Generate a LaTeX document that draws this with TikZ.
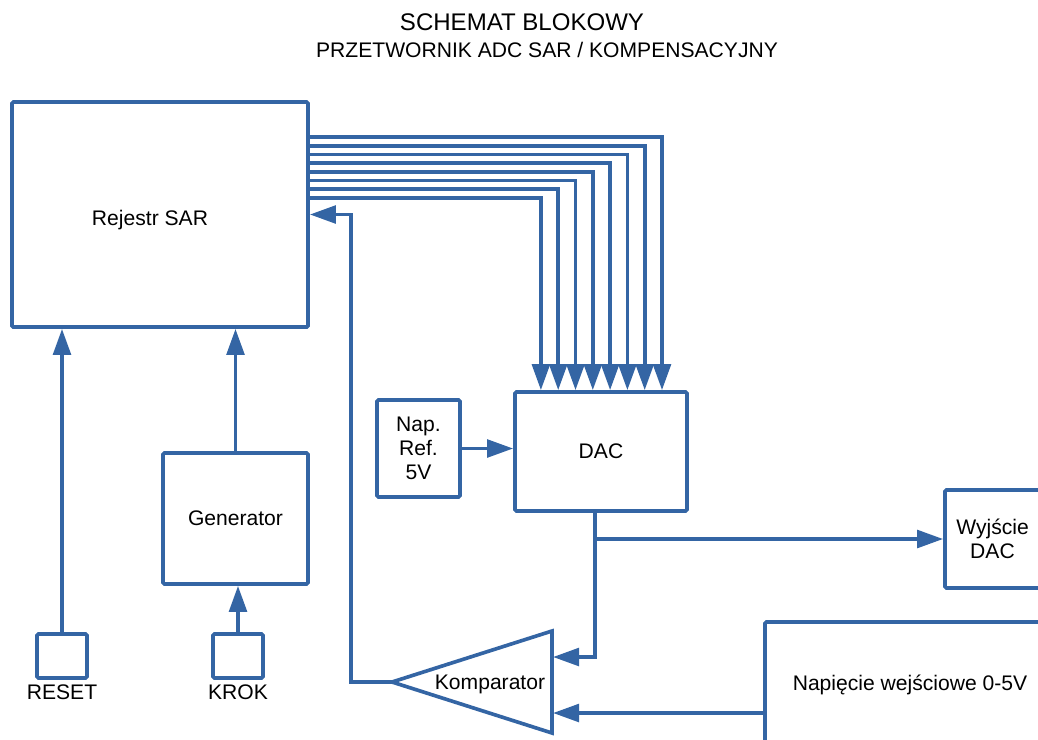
\documentclass[tikz,border=0pt]{standalone}
\usepackage{fontspec}
\setmainfont{Liberation Sans}
\usetikzlibrary{arrows.meta}
\definecolor{niebieski}{RGB}{52,101,164}

\tikzset{
  blok/.style={draw=niebieski, line width=2.6pt, rounded corners=1pt, align=center, inner sep=0pt, font=\fontsize{15}{17}\selectfont},
  linia/.style={draw=niebieski, line width=2.6pt},
  napis/.style={align=center, font=\fontsize{15}{17}\selectfont}
}

\begin{document}
\begin{tikzpicture}[x=0.025cm, y=-0.025cm, >={Triangle[length=0.65cm, width=0.44cm]}]

\useasboundingbox (0,0) rectangle (1038,739);
\clip (0,0) rectangle (1038,739);

%tytul
				\node [font=\fontsize{17.1}{20}\selectfont] (tytul) at (522,22) {SCHEMAT BLOKOWY};
				\node [napis] (podtytul) at (547,50) {PRZETWORNIK ADC SAR / KOMPENSACYJNY};

%bloki
				\node [blok, minimum width=7.4cm, minimum height=5.625cm,
				  label={[napis, xshift=-0.25cm, yshift=-0.15cm]center:Rejestr SAR}] (sar) at (160,214.5) {};
				\node [blok, minimum width=3.625cm, minimum height=3.275cm] (gen) at (235.5,518.5) {Generator};
				\node [blok, minimum width=1.25cm, minimum height=1.1cm] (reset) at (62,656) {};
				\node [blok, minimum width=1.25cm, minimum height=1.1cm] (krok) at (238,656) {};
				\node [blok, minimum width=2.075cm, minimum height=2.425cm] (napref) at (418.5,448.5) {Nap.\\Ref.\\5V};
				\node [blok, minimum width=4.3cm, minimum height=2.975cm] (dac) at (601,451.5) {DAC};
				\node [blok, minimum width=2.375cm, minimum height=2.45cm] (wyj) at (992.5,539) {Wyjście\\DAC};
				\node [blok, minimum width=7.25cm, minimum height=3.15cm] (nap) at (910,685) {Napięcie wejściowe 0-5V};
				\node [napis] (resettxt) at (62,692) {RESET};
				\node [napis] (kroktxt) at (238,692) {KROK};

%komparator
				\coordinate (kompWy) at (392,682);
				\coordinate (kompWe1) at (553,657);
				\coordinate (kompWe2) at (553,713);
				\draw [linia] (kompWy) -- (552,631) -- (552,733) -- cycle;
				\node [napis] (komp) at (490,684) {Komparator};

%linie
				\foreach \i in {0,...,7}
				  \draw [linia,->] (sar.east |- 0,{137+8.7*\i}) -| ({662-17.3*\i},0 |- dac.north);
				\draw [linia,->] (reset.north) -- (reset.north |- sar.south);
				\draw [linia,->] (gen.north) -- (gen.north |- sar.south);
				\draw [linia,->] (krok.north) -- (krok.north |- gen.south);
				\draw [linia,->] (napref.east) -- (napref.east -| dac.west);
				\coordinate (dacWy) at ([xshift=-0.15cm]dac.south);
				\draw [linia,->] (dacWy) |- (kompWe1);
				\draw [linia,->] (dacWy |- wyj.west) -- (wyj.west);
				\draw [linia,->] (nap.west |- kompWe2) -- (kompWe2);
				\draw [linia,->] (kompWy) -- ++(-41,0) |- (sar.east);

\end{tikzpicture}
\end{document}
